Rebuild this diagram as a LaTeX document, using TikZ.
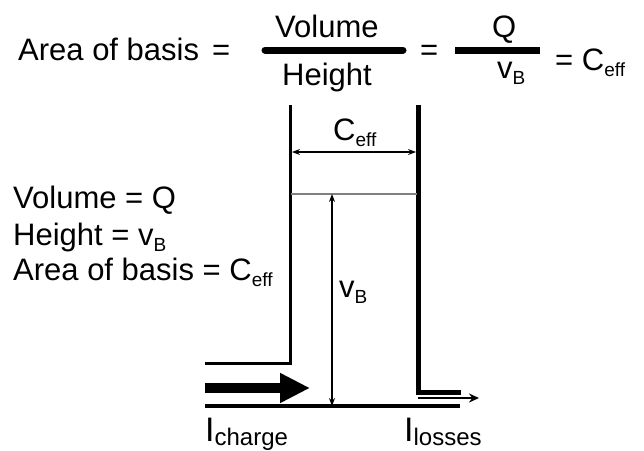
\documentclass[tikz,border=0pt]{standalone}
\usepackage{fontspec}
\setmainfont{Liberation Sans}
\usetikzlibrary{arrows.meta}
\newcommand{\sbs}[1]{\raisebox{-0.22em}{\fontsize{19}{19}\selectfont #1}}
\newcommand{\sbl}[1]{\raisebox{-4pt}{\fontsize{24}{24}\selectfont #1}}
\begin{document}
\begin{tikzpicture}[x=1pt,y=-1pt,
  txt/.style={inner sep=0pt,anchor=base west,font=\fontsize{31}{37}\selectfont},
  wallL/.style={line width=3pt},
  wallR/.style={line width=5pt},
  dim/.style={line width=1.2pt,{Stealth[length=8pt,width=6pt]}-{Stealth[length=8pt,width=6pt]}},
  bar/.style={line width=7pt}]
\useasboundingbox (0,0) rectangle (644,450);
% top equation
\node[txt] (t1) at (18,60) {Area of basis};
\node[txt] (t2) at (212,60) {=};
\node[txt] (t3) at (275,37) {Volume};
\node[txt] (t4) at (282,85) {Height};
\coordinate (b1a) at (265,50); \coordinate (b1b) at (403,50);
\draw[bar,line cap=round] (b1a) -- (b1b);
\node[txt] (t5) at (420,60) {=};
\coordinate (b2a) at (455,50); \coordinate (b2b) at (540,50);
\draw[bar] (b2a) -- (b2b);
\node[txt] (t6) at (492,37) {Q};
\node[txt] (t7) at (497,78) {v\sbs{B}};
\node[txt] (t8) at (555,70) {= C\sbs{eff}};
% left block
\node[txt] (l1) at (13,208) {Volume = Q};
\node[txt] (l2) at (13,245) {Height = v\sbs{B}};
\node[txt] (l3) at (13,280) {Area of basis = C\sbs{eff}};
% tank
\coordinate (lt) at (290,105); \coordinate (lb) at (290,363); \coordinate (le) at (205,363);
\coordinate (rt) at (418,105); \coordinate (rb) at (418,392); \coordinate (re) at (461,392);
\draw[wallL] (lt) -- (lb) -- (le);
\draw[wallR] (rt) -- (rb) -- (re);
\coordinate (d1) at (292,152); \coordinate (d2) at (416,152);
\draw[dim] (d1) -- (d2);
\node[txt] (ce) at (333,140) {C\sbs{eff}};
\coordinate (g1) at (291,194); \coordinate (g2) at (417,194);
\draw[gray,line width=1.5pt] (g1) -- (g2);
\coordinate (v1) at (332,194); \coordinate (v2) at (332,406);
\draw[dim] (v2) -- (v1);
\node[txt] (vb) at (339,297) {v\sbs{B}};
\coordinate (f1) at (205,406); \coordinate (f2) at (460,406);
\draw[line width=3.5pt] (f1) -- (f2);
\coordinate (a1) at (205,388); \coordinate (a2) at (310,388);
\draw[line width=10pt,-{Triangle[length=30pt,width=28pt]}] (a1) -- (a2);
\coordinate (o1) at (418,398); \coordinate (o2) at (479,398);
\draw[line width=2pt,-{Stealth[length=10pt,width=9pt]}] (o1) -- (o2);
% current labels
\node[txt] (ic) at (205,441) {\fontsize{34}{36}\selectfont I\sbl{charge}};
\node[txt] (il) at (404,441) {\fontsize{34}{36}\selectfont I\sbl{losses}};
\end{tikzpicture}
\end{document}
